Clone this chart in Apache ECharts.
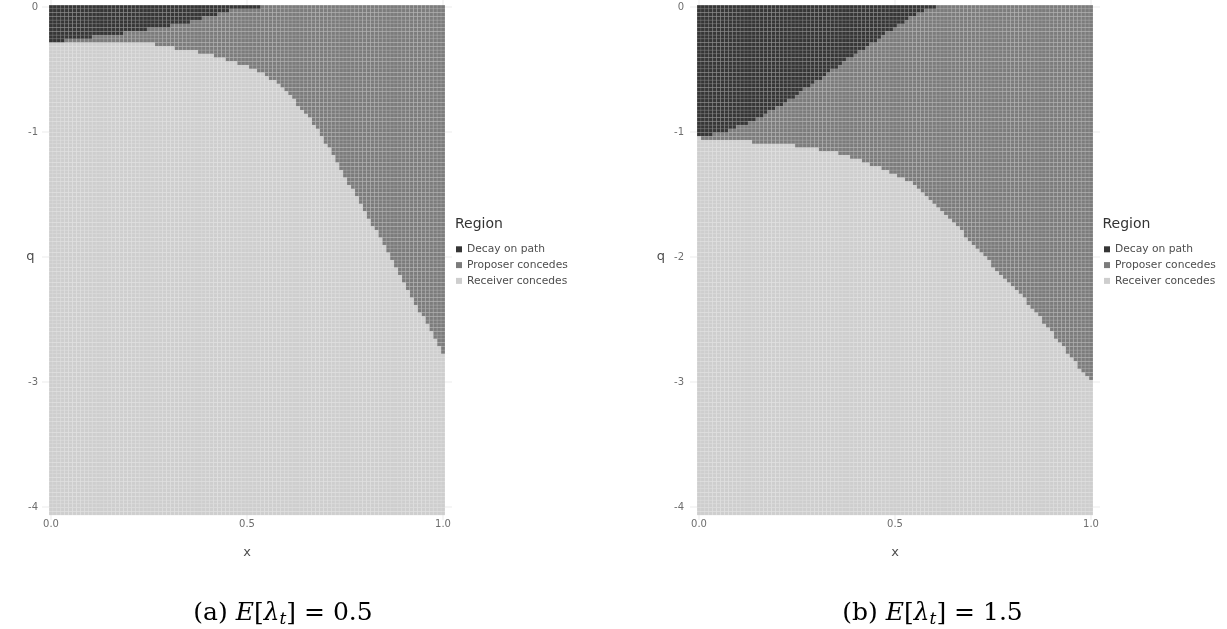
<!DOCTYPE html>
<html><head><meta charset="utf-8">
<script src="https://cdn.jsdelivr.net/npm/echarts@6/dist/echarts.min.js"></script>
<style>html,body{margin:0;padding:0;background:#fff}#c{width:1227px;height:629px}</style>
</head><body><div id="c"></div>
<script>
// ---------- data ----------
const regions = ['Decay on path', 'Proposer concedes', 'Receiver concedes'];
const xTicks = [0, 0.5, 1];
const qTicks = [0, -1, -2, -3, -4];
const qLabelsA = ['0', '-1', '', '-3', '-4'];   // left panel: "-2" is hidden behind the axis title
const qLabelsB = ['0', '-1', '-2', '-3', '-4'];
const legendTitle = 'Region';
const captionA = '(a) {i|E}[{i|λ}{s|t}] = 0.5';
const captionB = '(b) {i|E}[{i|λ}{s|t}] = 1.5';

// boundaries read per column, x = 0.00, 0.01, ..., 1.00
// panel (a): lower edge of "Decay on path" (null = none in that column)
const decayBottomA = [
  -0.29, -0.285, -0.28, -0.275, -0.27, -0.265, -0.26, -0.256, -0.252, -0.248,
  -0.244, -0.240, -0.236, -0.232, -0.228, -0.224, -0.220, -0.216, -0.211, -0.206,
  -0.201, -0.197, -0.193, -0.188, -0.184, -0.180, -0.176, -0.171, -0.166, -0.161,
  -0.156, -0.150, -0.143, -0.136, -0.129, -0.122, -0.114, -0.106, -0.097, -0.088,
  -0.079, -0.070, -0.061, -0.052, -0.044, -0.036, -0.028, -0.021, -0.015, -0.010,
  -0.006, -0.004, -0.002, -0.001, null, null, null, null, null, null,
  null, null, null, null, null, null, null, null, null, null,
  null, null, null, null, null, null, null, null, null, null,
  null, null, null, null, null, null, null, null, null, null,
  null, null, null, null, null, null, null, null, null, null,
  null
];
// panel (a): upper edge of "Receiver concedes"
const receiverTopA = [
  -0.30, -0.30, -0.30, -0.30, -0.30, -0.30, -0.30, -0.30, -0.30, -0.30,
  -0.30, -0.30, -0.30, -0.30, -0.30, -0.30, -0.30, -0.30, -0.30, -0.30,
  -0.30, -0.30, -0.30, -0.30, -0.30, -0.30, -0.30, -0.316, -0.319, -0.322,
  -0.325, -0.329, -0.333, -0.337, -0.341, -0.346, -0.352, -0.358, -0.365, -0.372,
  -0.38, -0.388, -0.396, -0.404, -0.413, -0.422, -0.432, -0.442, -0.452, -0.461,
  -0.47, -0.485, -0.50, -0.515, -0.53, -0.55, -0.575, -0.60, -0.63, -0.66,
  -0.69, -0.72, -0.75, -0.785, -0.82, -0.86, -0.90, -0.945, -0.99, -1.035,
  -1.085, -1.14, -1.195, -1.25, -1.305, -1.36, -1.415, -1.47, -1.525, -1.58,
  -1.635, -1.69, -1.745, -1.80, -1.855, -1.91, -1.968, -2.026, -2.084, -2.142,
  -2.20, -2.258, -2.316, -2.374, -2.432, -2.49, -2.548, -2.606, -2.664, -2.722,
  -2.78
];
// panel (b): lower edge of "Decay on path"
const decayBottomB = [
  -1.04, -1.036, -1.031, -1.026, -1.02, -1.013, -1.004, -0.994, -0.983, -0.971,
  -0.959, -0.946, -0.932, -0.918, -0.903, -0.888, -0.872, -0.855, -0.838, -0.82,
  -0.802, -0.783, -0.764, -0.744, -0.724, -0.703, -0.681, -0.659, -0.637, -0.615,
  -0.593, -0.571, -0.549, -0.527, -0.505, -0.483, -0.461, -0.439, -0.417, -0.396,
  -0.376, -0.357, -0.338, -0.318, -0.297, -0.275, -0.253, -0.231, -0.208, -0.185,
  -0.162, -0.141, -0.121, -0.102, -0.084, -0.067, -0.051, -0.036, -0.023, -0.012,
  -0.004, null, null, null, null, null, null, null, null, null,
  null, null, null, null, null, null, null, null, null, null,
  null, null, null, null, null, null, null, null, null, null,
  null, null, null, null, null, null, null, null, null, null,
  null
];
// panel (b): upper edge of "Receiver concedes"
const receiverTopB = [
  -1.045, -1.06, -1.064, -1.066, -1.067, -1.068, -1.07, -1.071, -1.072, -1.074,
  -1.075, -1.077, -1.078, -1.08, -1.082, -1.084, -1.086, -1.088, -1.09, -1.093,
  -1.096, -1.099, -1.102, -1.106, -1.11, -1.114, -1.118, -1.122, -1.126, -1.13,
  -1.136, -1.142, -1.148, -1.155, -1.162, -1.17, -1.178, -1.187, -1.197, -1.207,
  -1.218, -1.229, -1.24, -1.251, -1.263, -1.275, -1.289, -1.303, -1.317, -1.331,
  -1.345, -1.36, -1.375, -1.39, -1.41, -1.432, -1.455, -1.48, -1.51, -1.54,
  -1.572, -1.605, -1.64, -1.672, -1.704, -1.736, -1.768, -1.80, -1.834, -1.868,
  -1.902, -1.936, -1.97, -2.004, -2.038, -2.072, -2.104, -2.136, -2.168, -2.20,
  -2.234, -2.268, -2.302, -2.337, -2.372, -2.41, -2.45, -2.49, -2.53, -2.57,
  -2.61, -2.65, -2.69, -2.73, -2.77, -2.81, -2.85, -2.885, -2.92, -2.955,
  -2.99
];

// ---------- grid of cells (sampling grid of the region map) ----------
const DX = 0.01, DQ = 0.03, NQ = 136;
const regionColors = ['#363636', '#7c7c7c', '#cecece'];
const FONT = 'DejaVu Sans';

function buildCells(decayBottom, receiverTop) {
  const cells = [[], [], []];
  decayBottom.forEach((db, i) => {
    const x = i / 100;
    const rt = receiverTop[i];
    for (let j = 0; j < NQ; j++) {
      const q = -(j * 3) / 100;
      const r = (db !== null && q > db) ? 0 : (q <= rt ? 2 : 1);
      cells[r].push([x, q]);
    }
  });
  return cells;
}
const cellsA = buildCells(decayBottomA, receiverTopA);
const cellsB = buildCells(decayBottomB, receiverTopB);

function renderCell(params, api) {
  const x = api.value(0), q = api.value(1);
  const a = api.coord([x - DX / 2, q + DQ / 2]);
  const b = api.coord([x + DX / 2, q - DQ / 2]);
  return {
    type: 'rect',
    shape: { x: a[0], y: a[1], width: b[0] - a[0], height: b[1] - a[1] },
    style: { fill: api.visual('color'), stroke: 'rgba(255,255,255,0.14)', lineWidth: 0.6 }
  };
}
function renderGridLines(params, api) {
  const children = [];
  qTicks.forEach(q => {
    const a = api.coord([xTicks[0], q]), b = api.coord([xTicks[xTicks.length - 1], q]);
    children.push({ type: 'line', shape: { x1: a[0] - 9, y1: a[1], x2: b[0] + 9, y2: b[1] },
      style: { stroke: '#ebebeb', lineWidth: 1 } });
  });
  xTicks.forEach(x => {
    const a = api.coord([x, qTicks[0]]), b = api.coord([x, qTicks[qTicks.length - 1]]);
    children.push({ type: 'line', shape: { x1: a[0], y1: a[1] - 7, x2: b[0], y2: b[1] + 13 },
      style: { stroke: '#ebebeb', lineWidth: 1 } });
  });
  return { type: 'group', children };
}

const panels = [
  { cells: cellsA, qLabels: qLabelsA, left: 51, labelMargin: 13, qGap: 16.5, legendX: 456, titleX: 455, captionX: 283, caption: captionA },
  { cells: cellsB, qLabels: qLabelsB, left: 699, labelMargin: 15, qGap: 34, legendX: 1104, titleX: 1102.5, captionX: 932.5, caption: captionB }
];

const grid = [], xAxis = [], yAxis = [], series = [], legend = [], title = [];
panels.forEach((p, k) => {
  grid.push({ left: p.left, top: 7, width: 392, height: 500 });
  xAxis.push({
    type: 'value', gridIndex: k, min: 0, max: 1, interval: 0.5,
    name: 'x', nameLocation: 'middle', nameGap: 39, nameMoveOverlap: false,
    nameTextStyle: { fontFamily: FONT, fontSize: 13, color: '#4d4d4d' },
    axisLine: { show: false }, axisTick: { show: false }, splitLine: { show: false },
    axisLabel: { margin: 12, fontFamily: FONT, fontSize: 10, color: '#6e6e6e', formatter: v => v.toFixed(1) }
  });
  yAxis.push({
    type: 'value', gridIndex: k, min: -4, max: 0, interval: 1,
    name: 'q', nameLocation: 'middle', nameRotate: 0, nameGap: p.qGap, nameMoveOverlap: false,
    nameTextStyle: { fontFamily: FONT, fontSize: 13, color: '#4d4d4d' },
    axisLine: { show: false }, axisTick: { show: false }, splitLine: { show: false },
    axisLabel: {
      margin: p.labelMargin, fontFamily: FONT, fontSize: 10, color: '#6e6e6e',
      formatter: v => { const idx = qTicks.indexOf(Math.round(v)); return idx >= 0 ? p.qLabels[idx] : ''; }
    }
  });
  series.push({
    type: 'custom', xAxisIndex: k, yAxisIndex: k, silent: true, z: 1,
    data: [[0, 0]], renderItem: renderGridLines, clip: false
  });
  regions.forEach((name, r) => {
    series.push({
      type: 'custom', name, xAxisIndex: k, yAxisIndex: k, z: 2, clip: false,
      color: regionColors[r], encode: { x: 0, y: 1 },
      data: p.cells[r], renderItem: renderCell, progressive: 0
    });
  });
  legend.push({
    data: regions, orient: 'vertical', left: p.legendX, top: 243.8, padding: 0,
    icon: 'rect', itemWidth: 6, itemHeight: 6, itemGap: 4.8,
    textStyle: { fontFamily: FONT, fontSize: 10.7, color: '#4d4d4d' }
  });
  title.push({
    text: legendTitle, left: p.titleX, top: 217, padding: 0,
    textStyle: { fontFamily: FONT, fontSize: 14, fontWeight: 'normal', color: '#333' }
  });
  title.push({
    text: p.caption, left: p.captionX, top: 598, padding: 0, textAlign: 'center',
    textStyle: {
      fontFamily: 'DejaVu Serif', fontSize: 25, lineHeight: 30, fontWeight: 'normal', color: '#000',
      rich: {
        i: { fontFamily: 'DejaVu Serif', fontStyle: 'italic', fontSize: 25, lineHeight: 30, color: '#000' },
        s: { fontFamily: 'DejaVu Serif', fontStyle: 'italic', fontSize: 17, lineHeight: 17, verticalAlign: 'bottom', color: '#000' }
      }
    }
  });
});

const chart = echarts.init(document.getElementById('c'), null, { renderer: 'canvas' });
chart.setOption({ animation: false, backgroundColor: '#fff', grid, xAxis, yAxis, series, legend, title });
</script>
</body></html>
